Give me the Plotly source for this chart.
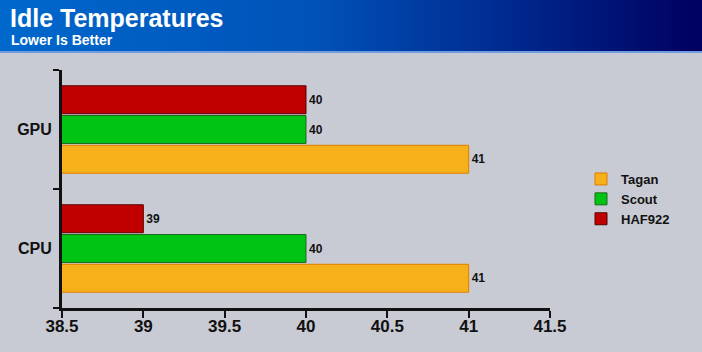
import base64
import plotly.graph_objects as go

# ---- data ----
categories = ["CPU", "GPU"]
series_names = ["Tagan", "Scout", "HAF922"]
tagan = [41, 41]
scout = [40, 40]
haf922 = [39, 40]
x_tick_vals = [38.5, 39, 39.5, 40, 40.5, 41, 41.5]
x_tick_labels = ["38.5", "39", "39.5", "40", "40.5", "41", "41.5"]
title_text = "Idle Temperatures"
subtitle_text = "Lower Is Better"

# ---- styling ----
W, H = 702, 352
ML, MR, MT, MB = 62, 152, 70, 44
PW, PH = W - ML - MR, H - MT - MB
FONT = "Liberation Sans, Arial, sans-serif"
BG = "#C9CBD4"

fills = {"Tagan": "#F5B01A", "Scout": "#00C414", "HAF922": "#C00000"}
edges = {"Tagan": "#E07E00", "Scout": "#1E6A1E", "HAF922": "#5A0000"}
values = {"Tagan": tagan, "Scout": scout, "HAF922": haf922}

fig = go.Figure()
for name in series_names:
    fig.add_trace(go.Bar(
        y=categories, x=values[name], name=name, orientation="h",
        marker=dict(color=fills[name], line=dict(color=edges[name], width=1)),
        text=values[name], texttemplate="%{x}", textposition="outside",
        textfont=dict(family=FONT, size=12, color="#111111", weight=700),
        cliponaxis=False,
    ))

def px_x(p):
    return (p - ML) / PW

def px_y(p):
    return (H - MB - p) / PH

svg = f'''<svg xmlns="http://www.w3.org/2000/svg" width="{W}" height="54" viewBox="0 0 {W} 54" preserveAspectRatio="none">
<defs><linearGradient id="g" x1="0" y1="0" x2="1" y2="0">
<stop offset="0" stop-color="#0068CC"/>
<stop offset="0.45" stop-color="#0052B8"/>
<stop offset="0.72" stop-color="#002A90"/>
<stop offset="1" stop-color="#000060"/>
</linearGradient></defs>
<rect x="0" y="0" width="{W}" height="52" fill="url(#g)"/>
<rect x="0" y="51" width="{W}" height="2" fill="#6F9CE0"/>
</svg>'''
src = "data:image/svg+xml;base64," + base64.b64encode(svg.encode()).decode()

fig.update_layout(
    width=W, height=H,
    margin=dict(l=ML, r=MR, t=MT, b=MB, pad=0),
    paper_bgcolor=BG, plot_bgcolor="rgba(0,0,0,0)",
    barmode="group", bargap=0.25, bargroupgap=0.06,
    font=dict(family=FONT, color="#111111"),
    showlegend=True,
    legend=dict(
        x=px_x(581), y=px_y(199), xanchor="left", yanchor="middle",
        traceorder="normal", bgcolor="rgba(0,0,0,0)",
        font=dict(family=FONT, size=13, color="#111111", weight=700),
    ),
    xaxis=dict(
        range=[38.5, 41.5], tickvals=x_tick_vals, ticktext=x_tick_labels,
        showgrid=False, zeroline=False,
        showline=True, linecolor="#111111", linewidth=3,
        ticks="outside", ticklen=7, tickwidth=2, tickcolor="#111111",
        ticklabelstandoff=-6,
        tickfont=dict(family=FONT, size=17, color="#111111", weight=700),
    ),
    yaxis=dict(
        type="category", categoryorder="array", categoryarray=categories,
        range=[-0.5, 1.5], tickson="boundaries",
        showgrid=False, zeroline=False,
        showline=True, linecolor="#111111", linewidth=3,
        ticks="outside", ticklen=6, tickwidth=2, tickcolor="#111111",
        ticklabelstandoff=4,
        tickfont=dict(family=FONT, size=16, color="#111111", weight=700),
    ),
    images=[dict(
        source=src, xref="paper", yref="paper",
        x=px_x(0), y=px_y(0), sizex=W / PW, sizey=54 / PH,
        xanchor="left", yanchor="top", sizing="stretch", layer="below",
    )],
    annotations=[
        dict(text=title_text, xref="paper", yref="paper", x=px_x(8), y=px_y(18),
             xanchor="left", yanchor="middle", showarrow=False,
             font=dict(family=FONT, size=25, color="white", weight=700)),
        dict(text=subtitle_text, xref="paper", yref="paper", x=px_x(9), y=px_y(40),
             xanchor="left", yanchor="middle", showarrow=False,
             font=dict(family=FONT, size=14, color="white", weight=700)),
    ],
)

fig.write_html("out.html")
